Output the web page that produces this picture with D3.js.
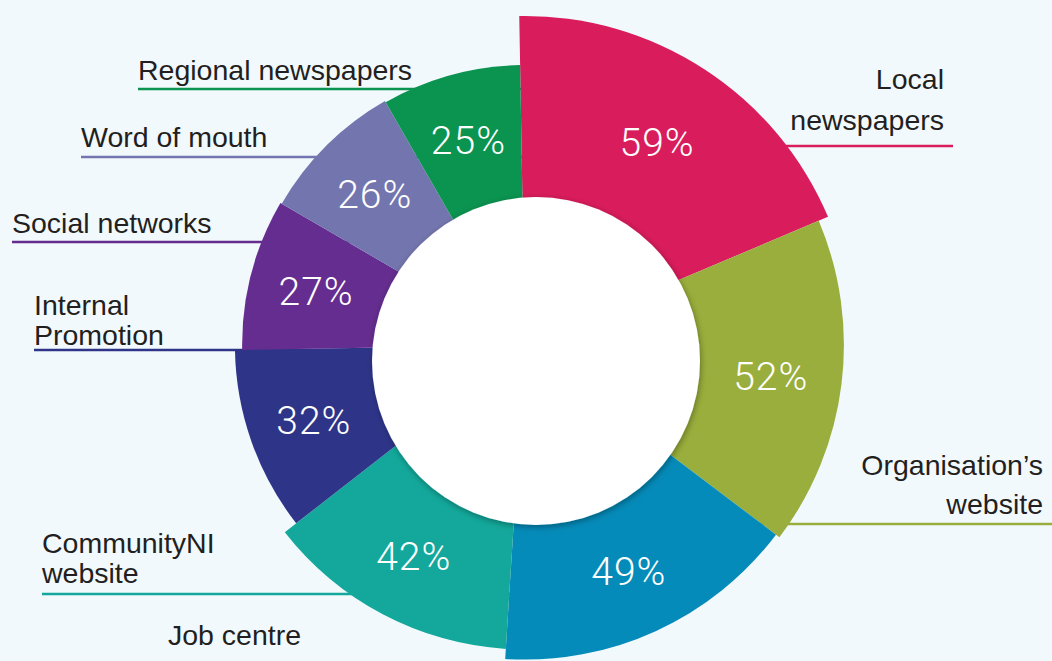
<!DOCTYPE html>
<html>
<head>
<meta charset="utf-8">
<script src="https://cdn.jsdelivr.net/npm/d3@7"></script>
<style>
  html, body { margin: 0; padding: 0; background: #f2f9fd; }
  svg { display: block; }
  .pct { font-family: Roboto, "Liberation Sans", sans-serif; font-weight: 300; fill: #fff; }
  .lbl { font-family: "Liberation Sans", Arial, sans-serif; fill: #231f20; }
</style>
</head>
<body>
<svg id="chart" width="1052" height="661"></svg>
<script>
// data
var categories = [ "Local newspapers", "Organisation’s website", "Job centre", "CommunityNI website",
  "Internal Promotion", "Social networks", "Word of mouth", "Regional newspapers" ];
var values = [ 59, 52, 49, 42, 32, 27, 26, 25 ];
var labelLines = [ [ "Local", "newspapers" ], [ "Organisation’s", "website" ], [ "Job centre" ],
  [ "CommunityNI", "website" ], [ "Internal", "Promotion" ], [ "Social networks" ],
  [ "Word of mouth" ], [ "Regional newspapers" ] ];
var colours = [ "#d91c5c", "#99ae3c", "#058bb9", "#13a89b", "#2e3589", "#652d8f", "#7376ae", "#0b9350" ];

// layout
var width = 1052, height = 661;
var cx = 525, cy = 345;
var holeR = 164, holeDx = 11, holeDy = 16;
var startDeg = -1;

// where each label sits (anchor, x, first baseline, line gap, rule y, rule end x)
var labelPos = [
  { anchor: "end",   x: 944,  y: 89,  gap: 41, ruleY: 146, ruleX: 953 },
  { anchor: "end",   x: 1043, y: 475, gap: 39, ruleY: 524, ruleX: 1052 },
  { anchor: "start", x: 168,  y: 645, gap: 0,  ruleY: null },
  { anchor: "start", x: 42,   y: 553, gap: 30, ruleY: 594, ruleX: 42 },
  { anchor: "start", x: 34,   y: 315, gap: 30, ruleY: 350, ruleX: 34 },
  { anchor: "start", x: 12,   y: 233, gap: 0,  ruleY: 242, ruleX: 12 },
  { anchor: "start", x: 81,   y: 147, gap: 0,  ruleY: 157, ruleX: 81 },
  { anchor: "start", x: 138,  y: 80,  gap: 0,  ruleY: 89,  ruleX: 138 }
];

var svg = d3.select( "#chart" );

svg.append( "rect" ).attr( "width", width ).attr( "height", height ).attr( "fill", "#f2f9fd" );

var defs = svg.append( "defs" );
var shadow = defs.append( "filter" ).attr( "id", "holeShadow" )
  .attr( "x", "-20%" ).attr( "y", "-20%" ).attr( "width", "140%" ).attr( "height", "140%" );
shadow.append( "feDropShadow" ).attr( "dx", 1 ).attr( "dy", 2 ).attr( "stdDeviation", 3 )
  .attr( "flood-color", "#000" ).attr( "flood-opacity", 0.35 );

var rows = categories.map( function ( c, i ) {
  return { name: c, value: values[ i ], colour: colours[ i ], lines: labelLines[ i ], pos: labelPos[ i ] };
} );

// radius grows with the value
var rScale = d3.scaleLinear().domain( [ 25, 59 ] ).range( [ 280, 329 ] );

var start = startDeg * Math.PI / 180;
var pie = d3.pie().sort( null ).value( function ( d ) { return d.value; } )
  .startAngle( start ).endAngle( start + 2 * Math.PI );
var arcs = pie( rows );

var arc = d3.arc().innerRadius( 0 ).outerRadius( function ( d ) { return rScale( d.data.value ); } );

// percent label: halfway between the hole's edge and the wedge's outer edge
function pctPos( d ) {
  var a = ( d.startAngle + d.endAngle ) / 2;
  var ux = Math.sin( a ), uy = -Math.cos( a );
  var uh = ux * holeDx + uy * holeDy;
  var t = uh + Math.sqrt( uh * uh - ( holeDx * holeDx + holeDy * holeDy ) + holeR * holeR );
  var r = ( t + rScale( d.data.value ) ) / 2;
  return [ ux * r, uy * r ];
}

// label rules (drawn under the wedges)
svg.append( "g" ).selectAll( "line" )
  .data( rows.filter( function ( d ) { return d.pos.ruleY !== null; } ) )
  .enter().append( "line" )
  .attr( "x1", function ( d ) { return d.pos.ruleX; } )
  .attr( "x2", cx )
  .attr( "y1", function ( d ) { return d.pos.ruleY; } )
  .attr( "y2", function ( d ) { return d.pos.ruleY; } )
  .attr( "stroke", function ( d ) { return d.colour; } )
  .attr( "stroke-width", 2.5 );

var g = svg.append( "g" ).attr( "transform", "translate(" + cx + "," + cy + ")" );

g.selectAll( "path" ).data( arcs ).enter().append( "path" )
  .attr( "d", arc )
  .attr( "fill", function ( d ) { return d.data.colour; } );

// white hole in the middle
g.append( "circle" )
  .attr( "cx", holeDx ).attr( "cy", holeDy ).attr( "r", holeR )
  .attr( "fill", "#fff" )
  .attr( "filter", "url(#holeShadow)" );

g.selectAll( "text.pct" ).data( arcs ).enter().append( "text" )
  .attr( "class", "pct" )
  .attr( "transform", function ( d ) { return "translate(" + pctPos( d ) + ")"; } )
  .attr( "text-anchor", "middle" )
  .attr( "dy", "0.36em" )
  .attr( "font-size", 39 )
  .attr( "letter-spacing", 1 )
  .text( function ( d ) { return d.data.value + "%"; } );

// category labels
var lbl = svg.append( "g" ).selectAll( "text" ).data( rows ).enter().append( "text" )
  .attr( "class", "lbl" )
  .attr( "font-size", 28.5 )
  .attr( "text-anchor", function ( d ) { return d.pos.anchor; } );

lbl.each( function ( d ) {
  var t = d3.select( this );
  d.lines.forEach( function ( line, j ) {
    t.append( "tspan" )
      .attr( "x", d.pos.x )
      .attr( "y", d.pos.y + j * d.pos.gap )
      .text( line );
  } );
} );
</script>
</body>
</html>
